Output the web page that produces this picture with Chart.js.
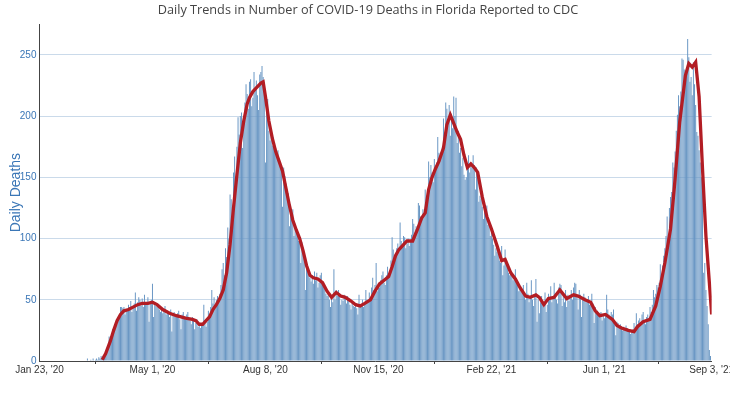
<!DOCTYPE html>
<html lang="en">
<head>
<meta charset="UTF-8">
<title>Daily Deaths Florida</title>
<script src="https://cdn.jsdelivr.net/npm/chart.js"></script>
<style>
html, body {
    margin: 0;
    padding: 0;
    background: #ffffff;
    overflow: hidden;
}
#chart {
    display: block;
}
</style>
</head>
<body>
<canvas id="chart" width="734" height="399"></canvas>
<script>
// day 0 = Jan 23, 2020 ... day 589 = Sep 3, 2021
const startDate = '2020-01-23';

// daily deaths, one value per day starting at startDate
const deaths = [
    0,0,0,0,0,0,0,0,0,0,
    0,0,0,0,0,0,0,0,0,0,
    0,0,0,0,0,0,0,0,0,0,
    0,0,0,0,0,0,0,0,0,0,
    0,0,2,0,0,1,0,2,0,1,
    2,1,3,2,4,3,5,4,8,7,
    12,20,14,19,26,24,27,31,30,35,
    37,44,44,43,44,38,42,41,46,44,
    49,40,43,47,56,41,48,52,50,45,
    51,44,54,48,46,52,32,48,50,63,
    36,47,45,44,46,42,40,44,39,42,
    45,38,41,40,36,42,24,38,40,37,
    36,39,41,34,26,38,40,36,34,38,
    40,35,33,30,36,33,26,31,34,28,
    30,27,31,29,46,33,28,32,41,38,
    44,58,47,52,43,50,53,49,55,62,
    75,80,70,92,85,109,100,136,132,120,
    154,167,140,175,199,185,200,203,174,196,
    211,226,218,206,228,230,208,215,236,222,
    229,217,205,234,236,241,232,220,162,203,
    214,188,180,187,176,183,178,174,168,172,
    164,160,155,126,158,151,145,140,137,110,
    128,118,124,102,112,108,104,98,100,80,
    97,90,86,58,78,75,70,68,65,70,
    63,73,66,72,60,64,70,72,64,61,
    59,55,53,56,50,44,52,48,75,50,
    58,53,58,55,46,50,49,54,51,47,
    53,50,46,42,48,45,44,47,43,38,
    54,44,46,50,44,47,58,50,48,56,
    52,60,68,58,62,80,57,64,60,66,
    70,73,64,62,70,77,68,74,82,101,
    91,85,88,92,96,89,113,98,95,102,
    101,92,96,100,94,99,103,116,112,105,
    110,106,129,127,118,116,124,121,140,132,
    137,163,150,160,154,146,165,158,162,183,
    170,164,169,175,198,186,211,206,196,209,
    184,202,190,216,200,215,178,188,170,174,
    159,166,152,148,150,157,168,154,162,158,
    168,160,140,158,150,130,135,132,126,116,
    128,120,127,111,114,102,108,100,95,86,
    92,89,88,82,80,94,70,78,91,80,
    76,72,70,73,71,66,69,75,64,62,
    57,60,58,56,62,52,50,64,55,48,
    52,66,50,45,54,67,32,50,39,48,
    53,47,44,56,40,46,55,50,61,48,
    52,64,55,50,47,60,63,62,45,55,
    48,58,44,54,49,52,58,50,60,64,
    63,52,42,58,54,36,50,55,52,48,
    50,53,46,49,55,47,31,44,40,41,
    38,36,40,33,37,35,39,54,42,38,
    36,40,38,42,30,21,32,31,28,30,
    27,25,28,26,29,27,24,25,22,24,
    26,31,28,39,30,33,35,30,38,40,
    33,30,36,38,35,44,40,46,58,52,
    55,62,60,64,79,70,78,86,92,102,
    118,99,125,134,138,162,158,171,188,201,
    217,208,220,247,246,238,236,240,263,248,
    228,232,217,244,226,209,187,184,172,162,
    150,138,72,80,58,45,30,9,4,0
];

// 7-day average (day index, value)
const avgDays = [
    55,58,62,65,68,71,74,78,82,86,90,95,99,103,108,114,120,128,134,137,
    140,143,146,149,152,155,158,161,164,167,170,173,176,179,182,184,187,190,194,196,
    198,201,204,207,210,213,216,219,222,225,228,231,234,237,240,244,248,252,256,258,
    260,264,268,273,277,281,285,290,294,298,302,306,309,312,315,318,322,327,331,335,
    338,341,344,347,350,354,357,360,363,366,369,372,375,378,381,384,388,392,396,401,
    405,408,413,417,421,426,430,435,438,442,446,451,456,462,468,472,478,483,487,491,
    496,502,506,510,516,521,524,529,535,540,544,548,553,557,561,566,569,572,575,578,
    581,584,587,589
];
const avgValues = [
    1,6,16,25,33,38,41,42,44,46,47,47,48,46,42,39,37,35,34,33,
    30,30,33,36,42,46,51,58,72,95,125,152,178,196,210,215,220,223,227,228,
    216,196,182,171,163,155,141,127,115,107,100,90,78,70,68,67,64,57,52,54,
    56,53,52,49,46,45,47,50,57,63,66,69,77,86,91,94,98,98,107,117,
    121,140,150,157,163,174,193,201,194,187,181,168,158,161,158,154,134,118,108,94,
    82,83,72,67,60,53,52,54,52,46,51,52,58,51,54,53,50,48,41,37,
    38,34,29,27,25,24,28,32,34,45,61,80,108,149,195,233,243,240,244,216,
    157,102,64,38
];

const tickDays = [0, 99, 198, 297, 396, 495, 589];
const tickLabels = ["Jan 23, '20", "May 1, '20", "Aug 8, '20", "Nov 15, '20", "Feb 22, '21", "Jun 1, '21", "Sep 3, '21"];
const yTicks = [0, 50, 100, 150, 200, 250];

const barPoints = deaths.map((v, i) => ({x: i, y: v}));
const linePoints = avgDays.map((d, i) => ({x: d, y: avgValues[i]}));

const tickFont = {family: 'Liberation Sans, Arial, sans-serif', size: 10};
const blue = '#3a76b6';

new Chart(document.getElementById('chart'), {
    type: 'bar',
    data: {
        datasets: [
            {
                type: 'line',
                label: '7-Day Moving Average',
                data: linePoints,
                borderColor: '#b21d24',
                borderWidth: 3.3,
                pointRadius: 0,
                tension: 0,
                order: 0
            },
            {
                type: 'bar',
                label: 'Daily Deaths',
                data: barPoints,
                backgroundColor: '#6795c3',
                borderWidth: 0,
                barPercentage: 1,
                categoryPercentage: 0.85,
                order: 1
            }
        ]
    },
    options: {
        responsive: false,
        animation: false,
        layout: {padding: {left: 2, right: 0, top: 0, bottom: 23}},
        plugins: {
            legend: {display: false},
            tooltip: {enabled: false},
            title: {
                display: true,
                text: 'Daily Trends in Number of COVID-19 Deaths in Florida Reported to CDC',
                color: '#444444',
                font: {family: 'Open Sans', size: 12.7, weight: 'normal'},
                padding: {top: 3, bottom: 6}
            }
        },
        scales: {
            x: {
                type: 'linear',
                min: 0,
                max: 589,
                offset: false,
                afterBuildTicks: axis => {
                    axis.ticks = tickDays.map(v => ({value: v}));
                },
                ticks: {
                    autoSkip: false,
                    maxRotation: 0,
                    padding: 0,
                    color: '#333333',
                    font: tickFont,
                    callback: v => tickLabels[tickDays.indexOf(v)]
                },
                grid: {
                    drawOnChartArea: false,
                    drawTicks: true,
                    tickLength: 3,
                    color: '#444444'
                },
                border: {color: '#444444', width: 1}
            },
            y: {
                min: 0,
                max: 275,
                afterBuildTicks: axis => {
                    axis.ticks = yTicks.map(v => ({value: v}));
                },
                ticks: {
                    padding: 3,
                    color: blue,
                    font: tickFont
                },
                grid: {
                    color: 'rgba(90,140,190,0.32)',
                    drawTicks: false
                },
                border: {color: '#444444', width: 1},
                title: {
                    display: true,
                    text: 'Daily Deaths',
                    color: blue,
                    font: {family: 'Liberation Sans, Arial, sans-serif', size: 14},
                    padding: {top: 6, bottom: -8}
                }
            }
        }
    }
});
</script>
</body>
</html>
